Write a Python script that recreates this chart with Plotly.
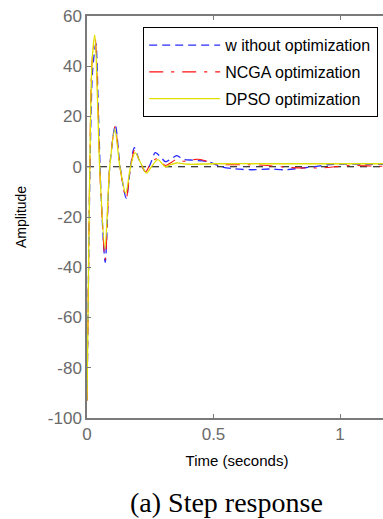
import plotly.graph_objects as go

# ---- data ----
t_blue = [0, 0.004, 0.012, 0.022, 0.035, 0.045, 0.056, 0.072, 0.09, 0.112, 0.131, 0.155, 0.172, 0.187,
          0.205, 0.232, 0.25, 0.27, 0.29, 0.31, 0.33, 0.355, 0.38, 0.42, 0.48, 0.53, 0.58, 0.65,
          0.72, 0.78, 0.85, 0.9, 0.95, 1.0, 1.1, 1.2]
y_blue = [-93, -60, 0, 38, 49, 22, -12, -38, 0, 16.5, 0, -12.5, 0, 7.6,
          3, -2, 1, 5.6, 4, 2, 3, 4.4, 3, 2.6, 2, 0, -0.8, -1.2,
          -0.9, -1.2, -0.5, 0, 0.8, 1, 1, 1]

t_red = [0, 0.004, 0.011, 0.02, 0.032, 0.043, 0.052, 0.072, 0.09, 0.111, 0.13, 0.155, 0.172, 0.189,
         0.205, 0.232, 0.25, 0.275, 0.31, 0.33, 0.355, 0.38, 0.44, 0.52, 0.64, 0.7, 0.8, 0.91,
         0.95, 1.04, 1.15, 1.2]
y_red = [-93, -60, 0, 42, 51, 25, -5, -37, 0, 16, 0, -12.5, 0, 7,
         3, -2, 1, 3.2, 0.5, 1.5, 3, 2.2, 3, 1, 0.8, 0.6, -0.3, -0.5,
         -0.3, 0.5, 0.2, 0.3]

t_yel = [0, 0.004, 0.011, 0.02, 0.031, 0.042, 0.05, 0.071, 0.09, 0.11, 0.13, 0.153, 0.172, 0.19,
         0.21, 0.235, 0.255, 0.28, 0.31, 0.33, 0.355, 0.4, 0.5, 0.7, 1.0, 1.2]
y_yel = [-93, -60, 0, 42, 52.5, 25, 0, -32.5, 0, 15, 0, -10.5, 0, 5.6,
         2, -2.5, 0, 2.8, 0, 0.8, 1.5, 1, 1.2, 1.2, 1.2, 1.2]

t_zero = [0, 1.2]
y_zero = [0, 0]

series_names = ["w ithout optimization", "NCGA optimization", "DPSO optimization"]
x_ticks = [0, 0.5, 1]
x_tick_text = ["0", "0.5", "1"]
y_ticks = [-100, -80, -60, -40, -20, 0, 20, 40, 60]
y_tick_text = ["-100", "-80", "-60", "-40", "-20", "0", "20", "40", "60"]

fig = go.Figure()
fig.add_trace(go.Scatter(x=t_zero, y=y_zero, mode="lines", showlegend=False,
                         line=dict(color="black", width=1, dash="7px,6px"), hoverinfo="skip"))
fig.add_trace(go.Scatter(x=t_blue, y=y_blue, mode="lines", name=series_names[0], legendgroup="a",
                         line=dict(color="#2a2aff", width=1.3, dash="8px,5px", shape="spline", smoothing=0.8)))
fig.add_trace(go.Scatter(x=t_red, y=y_red, mode="lines", name=series_names[1], legendgroup="b",
                         line=dict(color="#ff1010", width=1.1, dash="14px,8px,3px,8px", shape="spline", smoothing=0.8)))
fig.add_trace(go.Scatter(x=t_yel, y=y_yel, mode="lines", name=series_names[2], legendgroup="c",
                         line=dict(color="#dede00", width=1.3, shape="spline", smoothing=0.8)))

W = 387  # figure slightly wider than the window: the right part is cut off, as in the reference
plot_w = W - 87
axis_col = "#7a7a7a"
fig.update_layout(
    width=W, height=519,
    margin=dict(l=87, r=0, t=16, b=101, autoexpand=False),
    paper_bgcolor="white", plot_bgcolor="white",
    font=dict(family="Liberation Sans, Arial", size=16, color="#6a6a6a"),
    showlegend=True,
    legend=dict(x=(143 - 87) / plot_w, y=(418 - 27) / 402, xanchor="left", yanchor="top",
                bgcolor="white", bordercolor="black", borderwidth=1.2,
                font=dict(size=16, color="black"), tracegroupgap=3, itemwidth=71,
                traceorder="grouped"),
    xaxis=dict(range=[0, plot_w / 253.0], tickvals=x_ticks, ticktext=x_tick_text, automargin=False,
               showgrid=False, zeroline=False, showline=True, linecolor=axis_col, linewidth=1.5,
               mirror="ticks", ticks="inside", ticklen=4, tickcolor=axis_col,
               tickfont=dict(size=17, color="#6a6a6a"),
               title=dict(text="Time (seconds)", font=dict(size=15, color="black"), standoff=12)),
    yaxis=dict(range=[-100, 60], tickvals=y_ticks, ticktext=y_tick_text, automargin=False,
               showgrid=False, zeroline=False, showline=True, linecolor=axis_col, linewidth=1.5,
               mirror=False, ticks="inside", ticklen=4, tickcolor=axis_col,
               tickfont=dict(size=17, color="#6a6a6a"),
               title=dict(text="Amplitude", font=dict(size=14, color="black"), standoff=18)),
    annotations=[dict(text="(a) Step response", xref="paper", yref="paper",
                      x=(226 - 87) / plot_w, y=-(502 - 418) / 402, xanchor="center", yanchor="middle",
                      showarrow=False, font=dict(family="Liberation Serif, Times New Roman", size=28, color="black"))],
)

fig.write_html("out.html", config={"displayModeBar": False},
               post_script="document.body.style.margin='0';document.body.style.overflow='hidden';")
